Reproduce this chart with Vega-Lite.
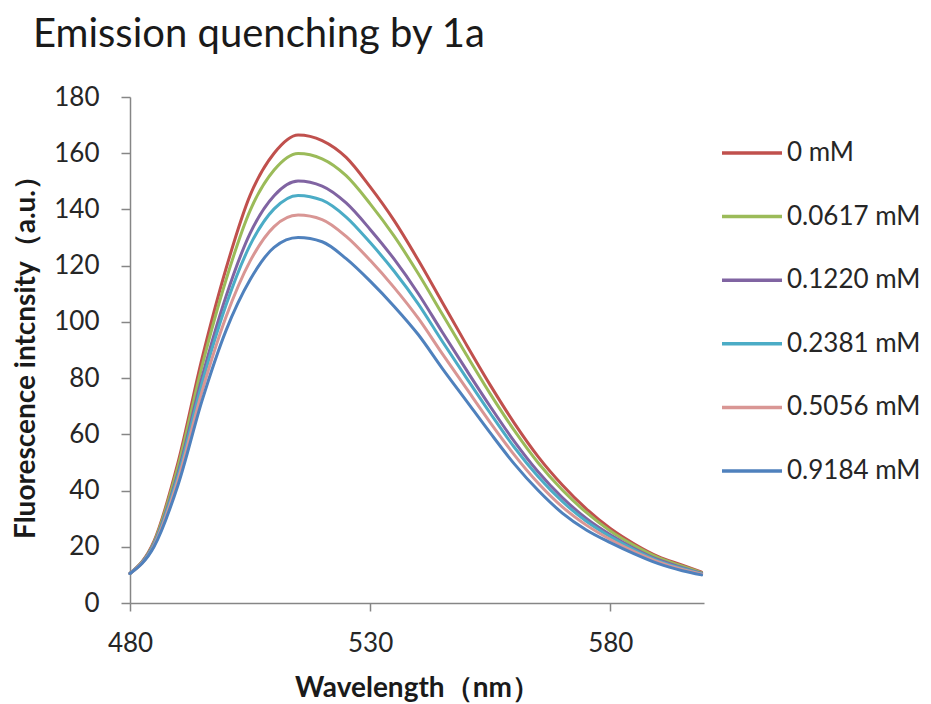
{
  "$schema": "https://vega.github.io/schema/vega-lite/v6.json",
  "width": 574,
  "height": 506,
  "autosize": {"type": "none"},
  "padding": {"left": 130, "top": 97, "right": 227, "bottom": 101},
  "background": "white",
  "title": {
    "text": "Emission quenching by 1a",
    "anchor": "start",
    "frame": "group",
    "dx": -97,
    "offset": 29,
    "font": "Lato",
    "fontSize": 40,
    "fontWeight": "normal",
    "color": "#1a1a1a"
  },
  "config": {
    "view": {"stroke": null},
    "font": "Lato"
  },
  "datasets": {
    "spectra": [
      {"c": "0 mM", "w": 480, "v": 10.5}, {"c": "0 mM", "w": 485, "v": 22}, {"c": "0 mM", "w": 490, "v": 50}, {"c": "0 mM", "w": 495, "v": 87}, {"c": "0 mM", "w": 500, "v": 119}, {"c": "0 mM", "w": 505, "v": 145}, {"c": "0 mM", "w": 510, "v": 160}, {"c": "0 mM", "w": 515, "v": 166.5}, {"c": "0 mM", "w": 520, "v": 164.5}, {"c": "0 mM", "w": 525, "v": 158.5}, {"c": "0 mM", "w": 530, "v": 148}, {"c": "0 mM", "w": 535, "v": 136}, {"c": "0 mM", "w": 540, "v": 122}, {"c": "0 mM", "w": 545, "v": 107}, {"c": "0 mM", "w": 550, "v": 92}, {"c": "0 mM", "w": 555, "v": 77.5}, {"c": "0 mM", "w": 560, "v": 64}, {"c": "0 mM", "w": 565, "v": 52}, {"c": "0 mM", "w": 570, "v": 42}, {"c": "0 mM", "w": 575, "v": 33.5}, {"c": "0 mM", "w": 580, "v": 26.5}, {"c": "0 mM", "w": 585, "v": 21}, {"c": "0 mM", "w": 590, "v": 16.5}, {"c": "0 mM", "w": 595, "v": 13.5}, {"c": "0 mM", "w": 599, "v": 11},
      {"c": "0.0617 mM", "w": 480, "v": 10.5}, {"c": "0.0617 mM", "w": 485, "v": 21.6}, {"c": "0.0617 mM", "w": 490, "v": 48.6}, {"c": "0.0617 mM", "w": 495, "v": 84.3}, {"c": "0.0617 mM", "w": 500, "v": 115}, {"c": "0.0617 mM", "w": 505, "v": 139.6}, {"c": "0.0617 mM", "w": 510, "v": 154}, {"c": "0.0617 mM", "w": 515, "v": 159.9}, {"c": "0.0617 mM", "w": 520, "v": 158}, {"c": "0.0617 mM", "w": 525, "v": 152}, {"c": "0.0617 mM", "w": 530, "v": 142}, {"c": "0.0617 mM", "w": 535, "v": 130.5}, {"c": "0.0617 mM", "w": 540, "v": 117.2}, {"c": "0.0617 mM", "w": 545, "v": 102.8}, {"c": "0.0617 mM", "w": 550, "v": 88.4}, {"c": "0.0617 mM", "w": 555, "v": 74.4}, {"c": "0.0617 mM", "w": 560, "v": 61.4}, {"c": "0.0617 mM", "w": 565, "v": 49.8}, {"c": "0.0617 mM", "w": 570, "v": 40.2}, {"c": "0.0617 mM", "w": 575, "v": 32.2}, {"c": "0.0617 mM", "w": 580, "v": 25.6}, {"c": "0.0617 mM", "w": 585, "v": 20.4}, {"c": "0.0617 mM", "w": 590, "v": 16.1}, {"c": "0.0617 mM", "w": 595, "v": 13.1}, {"c": "0.0617 mM", "w": 599, "v": 10.8},
      {"c": "0.1220 mM", "w": 480, "v": 10.5}, {"c": "0.1220 mM", "w": 485, "v": 21.1}, {"c": "0.1220 mM", "w": 490, "v": 46.4}, {"c": "0.1220 mM", "w": 495, "v": 80.3}, {"c": "0.1220 mM", "w": 500, "v": 109.1}, {"c": "0.1220 mM", "w": 505, "v": 131.5}, {"c": "0.1220 mM", "w": 510, "v": 144.9}, {"c": "0.1220 mM", "w": 515, "v": 150.1}, {"c": "0.1220 mM", "w": 520, "v": 148.3}, {"c": "0.1220 mM", "w": 525, "v": 142.3}, {"c": "0.1220 mM", "w": 530, "v": 132.9}, {"c": "0.1220 mM", "w": 535, "v": 122.3}, {"c": "0.1220 mM", "w": 540, "v": 110.1}, {"c": "0.1220 mM", "w": 545, "v": 96.4}, {"c": "0.1220 mM", "w": 550, "v": 83}, {"c": "0.1220 mM", "w": 555, "v": 69.9}, {"c": "0.1220 mM", "w": 560, "v": 57.5}, {"c": "0.1220 mM", "w": 565, "v": 46.6}, {"c": "0.1220 mM", "w": 570, "v": 37.5}, {"c": "0.1220 mM", "w": 575, "v": 30.1}, {"c": "0.1220 mM", "w": 580, "v": 24.3}, {"c": "0.1220 mM", "w": 585, "v": 19.4}, {"c": "0.1220 mM", "w": 590, "v": 15.4}, {"c": "0.1220 mM", "w": 595, "v": 12.6}, {"c": "0.1220 mM", "w": 599, "v": 10.6},
      {"c": "0.2381 mM", "w": 480, "v": 10.5}, {"c": "0.2381 mM", "w": 485, "v": 20.8}, {"c": "0.2381 mM", "w": 490, "v": 45.3}, {"c": "0.2381 mM", "w": 495, "v": 78.2}, {"c": "0.2381 mM", "w": 500, "v": 106}, {"c": "0.2381 mM", "w": 505, "v": 127.3}, {"c": "0.2381 mM", "w": 510, "v": 140.2}, {"c": "0.2381 mM", "w": 515, "v": 145}, {"c": "0.2381 mM", "w": 520, "v": 143.3}, {"c": "0.2381 mM", "w": 525, "v": 137.3}, {"c": "0.2381 mM", "w": 530, "v": 128.2}, {"c": "0.2381 mM", "w": 535, "v": 118}, {"c": "0.2381 mM", "w": 540, "v": 106.4}, {"c": "0.2381 mM", "w": 545, "v": 93.1}, {"c": "0.2381 mM", "w": 550, "v": 80.2}, {"c": "0.2381 mM", "w": 555, "v": 67.5}, {"c": "0.2381 mM", "w": 560, "v": 55.4}, {"c": "0.2381 mM", "w": 565, "v": 44.9}, {"c": "0.2381 mM", "w": 570, "v": 36.1}, {"c": "0.2381 mM", "w": 575, "v": 29.1}, {"c": "0.2381 mM", "w": 580, "v": 23.6}, {"c": "0.2381 mM", "w": 585, "v": 18.9}, {"c": "0.2381 mM", "w": 590, "v": 15}, {"c": "0.2381 mM", "w": 595, "v": 12.3}, {"c": "0.2381 mM", "w": 599, "v": 10.4},
      {"c": "0.5056 mM", "w": 480, "v": 10.5}, {"c": "0.5056 mM", "w": 485, "v": 20.4}, {"c": "0.5056 mM", "w": 490, "v": 43.8}, {"c": "0.5056 mM", "w": 495, "v": 75.3}, {"c": "0.5056 mM", "w": 500, "v": 101.8}, {"c": "0.5056 mM", "w": 505, "v": 121.6}, {"c": "0.5056 mM", "w": 510, "v": 133.9}, {"c": "0.5056 mM", "w": 515, "v": 138}, {"c": "0.5056 mM", "w": 520, "v": 136.4}, {"c": "0.5056 mM", "w": 525, "v": 130.4}, {"c": "0.5056 mM", "w": 530, "v": 121.9}, {"c": "0.5056 mM", "w": 535, "v": 112.2}, {"c": "0.5056 mM", "w": 540, "v": 101.3}, {"c": "0.5056 mM", "w": 545, "v": 88.7}, {"c": "0.5056 mM", "w": 550, "v": 76.4}, {"c": "0.5056 mM", "w": 555, "v": 64.2}, {"c": "0.5056 mM", "w": 560, "v": 52.7}, {"c": "0.5056 mM", "w": 565, "v": 42.6}, {"c": "0.5056 mM", "w": 570, "v": 34.2}, {"c": "0.5056 mM", "w": 575, "v": 27.7}, {"c": "0.5056 mM", "w": 580, "v": 22.6}, {"c": "0.5056 mM", "w": 585, "v": 18.3}, {"c": "0.5056 mM", "w": 590, "v": 14.6}, {"c": "0.5056 mM", "w": 595, "v": 11.9}, {"c": "0.5056 mM", "w": 599, "v": 10.2},
      {"c": "0.9184 mM", "w": 480, "v": 10.5}, {"c": "0.9184 mM", "w": 485, "v": 20}, {"c": "0.9184 mM", "w": 490, "v": 42}, {"c": "0.9184 mM", "w": 495, "v": 72}, {"c": "0.9184 mM", "w": 500, "v": 97}, {"c": "0.9184 mM", "w": 505, "v": 115}, {"c": "0.9184 mM", "w": 510, "v": 126.5}, {"c": "0.9184 mM", "w": 515, "v": 130}, {"c": "0.9184 mM", "w": 520, "v": 128.5}, {"c": "0.9184 mM", "w": 525, "v": 122.5}, {"c": "0.9184 mM", "w": 530, "v": 114.5}, {"c": "0.9184 mM", "w": 535, "v": 105.5}, {"c": "0.9184 mM", "w": 540, "v": 95.5}, {"c": "0.9184 mM", "w": 545, "v": 83.5}, {"c": "0.9184 mM", "w": 550, "v": 72}, {"c": "0.9184 mM", "w": 555, "v": 60.5}, {"c": "0.9184 mM", "w": 560, "v": 49.5}, {"c": "0.9184 mM", "w": 565, "v": 40}, {"c": "0.9184 mM", "w": 570, "v": 32}, {"c": "0.9184 mM", "w": 575, "v": 26}, {"c": "0.9184 mM", "w": 580, "v": 21.5}, {"c": "0.9184 mM", "w": 585, "v": 17.5}, {"c": "0.9184 mM", "w": 590, "v": 14}, {"c": "0.9184 mM", "w": 595, "v": 11.5}, {"c": "0.9184 mM", "w": 599, "v": 10}
    ]
  },
  "data": {"name": "spectra"},
  "mark": {"type": "line", "interpolate": "monotone", "strokeWidth": 3, "strokeCap": "round"},
  "encoding": {
    "x": {
      "field": "w",
      "type": "quantitative",
      "scale": {"domain": [480, 599.5], "nice": false, "zero": false},
      "axis": {
        "title": "Wavelength（nm）",
        "values": [480, 530, 580],
        "grid": false,
        "labelFlush": false,
        "domainColor": "#868686",
        "domainWidth": 1.5,
        "tickColor": "#868686",
        "tickWidth": 1.5,
        "tickSize": 8,
        "labelFont": "Lato",
        "labelFontSize": 26,
        "labelColor": "#262626",
        "labelPadding": 19,
        "titleFont": "Lato",
        "titleFontSize": 28,
        "titleFontWeight": "bold",
        "titleColor": "#1a1a1a",
        "titlePadding": 18
      }
    },
    "y": {
      "field": "v",
      "type": "quantitative",
      "scale": {"domain": [0, 180], "nice": false},
      "axis": {
        "title": "Fluorescence intcnsity（a.u.）",
        "values": [0, 20, 40, 60, 80, 100, 120, 140, 160, 180],
        "grid": false,
        "labelFlush": false,
        "domainColor": "#868686",
        "domainWidth": 1.5,
        "tickColor": "#868686",
        "tickWidth": 1.5,
        "tickSize": 9,
        "labelFont": "Lato",
        "labelFontSize": 26,
        "labelColor": "#262626",
        "labelPadding": 22,
        "titleFont": "Lato",
        "titleFontSize": 28,
        "titleFontWeight": "bold",
        "titleColor": "#1a1a1a",
        "titlePadding": 13
      }
    },
    "color": {
      "field": "c",
      "type": "nominal",
      "sort": ["0 mM", "0.0617 mM", "0.1220 mM", "0.2381 mM", "0.5056 mM", "0.9184 mM"],
      "scale": {
        "domain": ["0 mM", "0.0617 mM", "0.1220 mM", "0.2381 mM", "0.5056 mM", "0.9184 mM"],
        "range": ["#C0504D", "#9BBB59", "#8064A2", "#4BACC6", "#D99694", "#4F81BD"]
      },
      "legend": {
        "title": null,
        "orient": "none",
        "legendX": 590,
        "legendY": 24,
        "symbolType": "stroke",
        "symbolSize": 3600,
        "symbolStrokeWidth": 3.5,
        "rowPadding": 18.6,
        "labelFont": "Lato",
        "labelFontSize": 26,
        "labelColor": "#262626",
        "labelOffset": 3,
        "labelLimit": 200
      }
    }
  }
}
